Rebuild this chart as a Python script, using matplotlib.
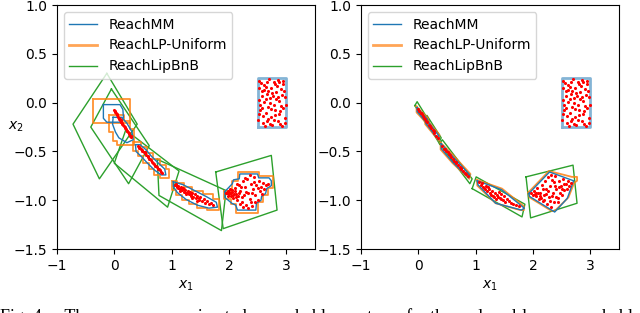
import matplotlib
matplotlib.use("Agg")
import matplotlib.pyplot as plt

# ---------------- data ----------------
init_box = [(2.5, -0.25), (3.0, -0.25), (3.0, 0.25), (2.5, 0.25)]

init_pts = [(2.53, 0.22), (2.61, 0.18), (2.70, 0.24), (2.78, 0.21), (2.86, 0.23), (2.95, 0.19),
            (2.57, 0.12), (2.66, 0.09), (2.74, 0.15), (2.83, 0.11), (2.91, 0.14), (2.98, 0.06),
            (2.52, 0.03), (2.62, 0.01), (2.71, 0.05), (2.79, -0.02), (2.88, 0.02), (2.94, -0.05),
            (2.55, -0.08), (2.64, -0.11), (2.73, -0.06), (2.81, -0.13), (2.90, -0.09), (2.97, -0.16),
            (2.51, -0.18), (2.59, -0.21), (2.68, -0.17), (2.76, -0.23), (2.85, -0.19), (2.93, -0.24),
            (2.56, 0.20), (2.65, 0.16), (2.75, 0.10), (2.84, 0.17), (2.92, 0.08), (2.54, -0.02),
            (2.69, -0.04), (2.77, 0.07), (2.87, -0.12), (2.99, -0.02), (2.60, -0.14), (2.71, -0.22),
            (2.80, -0.08), (2.89, -0.22), (2.96, 0.12), (2.58, 0.07), (2.67, 0.21), (2.82, 0.04),
            (2.63, -0.24), (2.74, -0.15), (2.53, -0.12), (2.94, 0.22), (2.86, 0.06), (2.72, 0.00),
            (2.61, 0.13), (2.57, -0.05), (2.66, -0.19), (2.78, -0.18), (2.91, -0.03), (2.68, 0.12),
            (2.81, 0.19), (2.97, -0.21), (2.52, 0.15), (2.88, 0.21), (2.64, 0.04)]

# left panel ---------------------------------------------------
left_pts = [
    [(1.95, -0.92), (1.98, -0.90), (2.00, -0.94), (2.02, -0.88), (2.04, -0.96), (2.06, -0.91),
     (2.08, -0.98), (2.10, -0.87), (2.12, -0.94), (2.14, -1.00), (2.03, -0.93), (2.07, -0.95),
     (1.99, -0.96), (2.11, -0.90), (2.16, -0.96), (2.18, -0.84), (2.20, -0.90), (2.22, -1.02),
     (2.24, -0.80), (2.26, -0.95), (2.28, -0.86), (2.30, -1.05), (2.32, -0.78), (2.34, -0.92),
     (2.36, -0.99), (2.38, -0.83), (2.40, -1.06), (2.42, -0.88), (2.44, -0.76), (2.46, -0.95),
     (2.48, -0.84), (2.50, -1.00), (2.52, -0.80), (2.54, -0.90), (2.56, -0.86), (2.58, -0.94),
     (2.60, -0.82), (2.62, -0.88), (2.65, -0.84), (2.68, -0.83), (2.25, -1.07), (2.19, -1.04),
     (2.36, -0.74), (2.28, -0.77), (2.45, -1.02), (2.33, -1.08), (2.14, -0.83), (2.40, -0.93),
     (1.97, -0.93), (2.05, -0.89), (2.09, -0.94), (2.13, -0.97), (2.01, -0.91), (2.17, -0.92),
     (2.23, -0.97), (2.29, -0.91), (2.43, -0.81), (2.51, -0.87), (2.21, -0.86), (2.38, -1.02)],
    [(1.06, -0.84), (1.08, -0.83), (1.10, -0.86), (1.12, -0.85), (1.14, -0.88), (1.16, -0.86),
     (1.18, -0.89), (1.20, -0.87), (1.22, -0.91), (1.24, -0.89), (1.26, -0.92), (1.28, -0.90),
     (1.30, -0.94), (1.32, -0.91), (1.34, -0.95), (1.36, -0.93), (1.38, -0.97), (1.40, -0.94),
     (1.42, -0.98), (1.45, -0.96), (1.48, -1.00), (1.50, -0.97), (1.53, -1.01), (1.56, -0.99),
     (1.59, -1.03), (1.62, -1.01), (1.65, -1.04), (1.68, -1.03), (1.72, -1.05), (1.15, -0.90),
     (1.25, -0.94), (1.35, -0.98), (1.44, -1.01), (1.11, -0.87), (1.21, -0.88), (1.09, -0.85),
     (1.17, -0.87), (1.27, -0.93), (1.33, -0.96), (1.47, -0.98)],
    [(0.41, -0.44), (0.44, -0.45), (0.46, -0.47), (0.49, -0.48), (0.51, -0.51), (0.54, -0.52),
     (0.56, -0.54), (0.59, -0.56), (0.61, -0.58), (0.64, -0.59), (0.66, -0.61), (0.69, -0.63),
     (0.71, -0.65), (0.74, -0.66), (0.76, -0.68), (0.79, -0.69), (0.81, -0.71), (0.84, -0.72),
     (0.48, -0.49), (0.58, -0.55), (0.68, -0.62), (0.78, -0.68), (0.43, -0.46), (0.53, -0.51),
     (0.63, -0.58), (0.73, -0.65)],
    [(0.10, -0.18), (0.12, -0.20), (0.14, -0.22), (0.16, -0.23), (0.18, -0.25), (0.20, -0.27),
     (0.22, -0.29), (0.24, -0.30), (0.26, -0.32), (0.28, -0.34), (0.30, -0.35), (0.13, -0.21),
     (0.19, -0.26), (0.25, -0.31), (0.11, -0.19), (0.17, -0.24), (0.23, -0.29), (0.29, -0.34)],
    [(-0.01, -0.08), (0.01, -0.10), (0.03, -0.11), (0.05, -0.13), (0.07, -0.15), (0.09, -0.17),
     (0.11, -0.18), (0.12, -0.20), (0.02, -0.09), (0.08, -0.16), (0.04, -0.12), (0.10, -0.17)],
]

left_mm = [
    [(1.93, -0.91), (2.06, -0.83), (2.08, -0.79), (2.18, -0.78), (2.19, -0.73), (2.50, -0.73),
     (2.52, -0.77), (2.70, -0.77), (2.74, -0.80), (2.74, -0.85), (2.66, -0.88), (2.64, -0.93),
     (2.57, -0.96), (2.56, -1.00), (2.48, -1.03), (2.47, -1.10), (2.15, -1.10), (2.12, -1.05),
     (2.05, -1.03), (1.93, -0.97)],
    [(1.03, -0.81), (1.20, -0.84), (1.40, -0.90), (1.60, -0.96), (1.78, -1.02), (1.80, -1.07),
     (1.65, -1.08), (1.45, -1.05), (1.25, -0.99), (1.10, -0.92), (1.03, -0.86)],
    [(0.37, -0.43), (0.45, -0.43), (0.55, -0.48), (0.65, -0.55), (0.77, -0.62), (0.88, -0.68),
     (0.90, -0.74), (0.82, -0.74), (0.70, -0.69), (0.58, -0.62), (0.47, -0.55), (0.38, -0.50)],
    [(-0.02, -0.15), (0.13, -0.15), (0.22, -0.21), (0.31, -0.30), (0.33, -0.38), (0.22, -0.41),
     (0.08, -0.36), (0.02, -0.30), (-0.03, -0.22)],
    [(-0.19, -0.02), (0.10, -0.02), (0.15, -0.07), (0.16, -0.15), (0.10, -0.20), (-0.13, -0.20),
     (-0.19, -0.16)],
]

left_lp = [
    [(1.906, -0.903), (2.047, -0.903), (2.047, -0.800), (2.164, -0.800), (2.164, -0.715),
     (2.532, -0.715), (2.532, -0.749), (2.766, -0.749), (2.766, -0.869), (2.678, -0.869),
     (2.678, -0.944), (2.590, -0.944), (2.590, -1.022), (2.503, -1.022), (2.503, -1.125),
     (2.123, -1.125), (2.123, -1.040), (2.035, -1.040), (2.035, -0.988), (1.906, -0.988)],
    [(1.01, -0.80), (1.10, -0.80), (1.10, -0.82), (1.22, -0.82), (1.22, -0.86), (1.35, -0.86),
     (1.35, -0.90), (1.55, -0.90), (1.55, -0.94), (1.72, -0.94), (1.72, -0.99), (1.83, -0.99),
     (1.83, -1.10), (1.62, -1.10), (1.62, -1.08), (1.45, -1.08), (1.45, -1.04), (1.30, -1.04),
     (1.30, -1.00), (1.18, -1.00), (1.18, -0.95), (1.08, -0.95), (1.08, -0.89), (1.01, -0.89)],
    [(0.33, -0.40), (0.47, -0.40), (0.47, -0.45), (0.57, -0.45), (0.57, -0.52), (0.68, -0.52),
     (0.68, -0.58), (0.80, -0.58), (0.80, -0.64), (0.90, -0.64), (0.90, -0.68), (0.95, -0.68),
     (0.95, -0.77), (0.80, -0.77), (0.80, -0.74), (0.70, -0.74), (0.70, -0.68), (0.60, -0.68),
     (0.60, -0.62), (0.50, -0.62), (0.50, -0.55), (0.42, -0.55), (0.42, -0.50), (0.33, -0.50)],
    [(-0.10, -0.13), (0.17, -0.13), (0.17, -0.19), (0.27, -0.19), (0.27, -0.27), (0.35, -0.27),
     (0.35, -0.43), (0.05, -0.43), (0.05, -0.39), (-0.03, -0.39), (-0.03, -0.30), (-0.10, -0.30)],
    [(-0.37, 0.04), (0.27, 0.04), (0.27, -0.21), (-0.37, -0.21)],
]

left_bnb = [
    [(1.77, -0.71), (2.74, -0.54), (2.84, -1.10), (1.90, -1.29)],
    [(0.75, -0.58), (1.95, -0.90), (1.87, -1.31), (0.78, -0.95)],
    [(0.20, -0.28), (1.13, -0.70), (0.93, -1.07), (0.00, -0.62)],
    [(-0.05, 0.14), (0.61, -0.44), (0.25, -0.83), (-0.41, -0.25)],
    [(-0.13, 0.30), (0.40, -0.22), (-0.26, -0.78), (-0.72, -0.22)],
]

# right panel --------------------------------------------------
right_pts = [
    [(1.97, -0.93), (2.02, -0.90), (2.05, -0.96), (2.08, -0.87), (2.10, -0.99), (2.13, -0.92),
     (2.15, -0.84), (2.17, -1.01), (2.19, -0.95), (2.21, -0.80), (2.23, -0.88), (2.25, -1.04),
     (2.27, -0.76), (2.28, -0.97), (2.30, -0.85), (2.32, -1.07), (2.34, -0.79), (2.35, -0.92),
     (2.37, -1.02), (2.39, -0.75), (2.41, -0.88), (2.43, -0.98), (2.45, -0.80), (2.47, -0.93),
     (2.49, -0.85), (2.51, -0.95), (2.53, -0.78), (2.55, -0.89), (2.57, -0.83), (2.59, -0.88),
     (2.61, -0.80), (2.63, -0.85), (2.66, -0.82), (2.12, -0.96), (2.06, -0.92), (2.20, -1.00),
     (2.26, -0.90), (2.38, -0.85), (2.44, -1.02), (2.31, -0.74), (2.50, -0.88), (2.18, -0.88),
     (2.00, -0.95), (2.09, -0.93), (2.40, -0.97), (2.03, -0.94), (2.14, -0.98), (2.22, -0.94),
     (2.29, -1.01), (2.36, -0.81), (2.46, -0.86), (2.54, -0.83), (2.33, -0.96)],
    [(1.06, -0.815), (1.10, -0.84), (1.12, -0.82), (1.15, -0.87), (1.18, -0.85), (1.20, -0.90),
     (1.23, -0.88), (1.25, -0.93), (1.28, -0.90), (1.30, -0.96), (1.33, -0.92), (1.35, -0.99),
     (1.37, -0.95), (1.40, -0.91), (1.42, -0.98), (1.45, -0.94), (1.47, -1.00), (1.50, -0.96),
     (1.52, -1.02), (1.55, -0.99), (1.58, -1.01), (1.62, -1.03), (1.66, -1.04), (1.70, -1.05),
     (1.75, -1.06), (1.13, -0.86), (1.27, -0.95), (1.39, -0.97), (1.22, -0.86), (1.32, -0.97),
     (1.44, -0.99), (1.17, -0.88)],
    [(0.42, -0.44), (0.45, -0.47), (0.48, -0.49), (0.51, -0.51), (0.54, -0.53), (0.57, -0.56),
     (0.60, -0.58), (0.63, -0.60), (0.66, -0.62), (0.69, -0.64), (0.72, -0.66), (0.75, -0.68),
     (0.78, -0.70), (0.81, -0.72), (0.84, -0.73), (0.87, -0.75), (0.47, -0.47), (0.56, -0.54),
     (0.65, -0.61), (0.74, -0.67)],
    [(0.16, -0.20), (0.19, -0.23), (0.22, -0.26), (0.25, -0.28), (0.28, -0.31), (0.31, -0.34),
     (0.34, -0.36), (0.20, -0.24), (0.27, -0.29)],
    [(0.00, -0.07), (0.02, -0.09), (0.04, -0.11), (0.06, -0.12), (0.08, -0.14), (0.10, -0.16),
     (0.12, -0.17), (0.14, -0.19), (0.05, -0.11)],
]

right_mm = [
    [(1.93, -0.93), (2.29, -0.71), (2.71, -0.80), (2.60, -0.98), (2.38, -1.12), (1.94, -0.96)],
    [(1.03, -0.80), (1.45, -0.89), (1.85, -1.08), (1.80, -1.10), (1.35, -1.03), (1.04, -0.84)],
    [(0.40, -0.42), (0.60, -0.55), (0.90, -0.74), (0.88, -0.77), (0.60, -0.61), (0.40, -0.47)],
    [(0.14, -0.17), (0.36, -0.34), (0.35, -0.38), (0.13, -0.21)],
    [(-0.02, -0.05), (0.16, -0.17), (0.15, -0.21), (-0.02, -0.09)],
]

right_lp = [
    [(1.92, -0.92), (2.28, -0.70), (2.68, -0.76), (2.77, -0.76), (2.77, -0.80), (2.72, -0.82),
     (2.62, -0.97), (2.38, -1.11), (2.33, -1.11), (1.94, -0.97)],
    [(1.02, -0.79), (1.46, -0.88), (1.84, -1.06), (1.84, -1.10), (1.78, -1.10), (1.35, -1.03),
     (1.03, -0.85)],
    [(0.39, -0.41), (0.61, -0.54), (0.91, -0.73), (0.89, -0.78), (0.60, -0.62), (0.39, -0.48)],
    [(0.13, -0.16), (0.37, -0.33), (0.36, -0.39), (0.12, -0.22)],
    [(-0.03, -0.04), (0.17, -0.16), (0.16, -0.22), (-0.03, -0.10)],
]

right_bnb = [
    [(1.88, -0.76), (2.70, -0.64), (2.77, -1.03), (1.96, -1.18)],
    [(0.94, -0.88), (1.01, -0.76), (1.86, -1.04), (1.81, -1.17)],
    [(0.37, -0.42), (0.42, -0.38), (0.94, -0.78), (0.90, -0.83)],
    [(0.11, -0.17), (0.15, -0.13), (0.40, -0.36), (0.36, -0.41)],
    [(-0.06, -0.03), (-0.02, 0.01), (0.19, -0.19), (0.15, -0.23)],
]

labels = ['ReachMM', 'ReachLP-Uniform', 'ReachLipBnB']
colors = ['#1f77b4', '#ff7f0e', '#2ca02c']

caption = ("Fig. 4:    The    over-approximated    reachable    sets    of    the    "
           "closed-loop    reachabl")


def closed(poly):
    xs = [p[0] for p in poly] + [poly[0][0]]
    ys = [p[1] for p in poly] + [poly[0][1]]
    return xs, ys


def draw_panel(ax, pts, mm, lp, bnb):
    for poly in bnb:
        ax.plot(*closed(poly), color=colors[2], lw=1)
    for poly in lp:
        ax.plot(*closed(poly), color=colors[1], lw=1.3, alpha=0.85)
    for poly in mm:
        ax.plot(*closed(poly), color=colors[0], lw=1)
    ax.plot(*closed(init_box), color=colors[0], lw=2, alpha=0.55)
    for cloud in [init_pts] + pts:
        ax.scatter([p[0] for p in cloud], [p[1] for p in cloud], s=5, color='red',
                   zorder=3, linewidths=0)
    # legend proxies
    ax.plot([], [], color=colors[0], lw=1, label=labels[0])
    ax.plot([], [], color=colors[1], lw=2, alpha=0.7, label=labels[1])
    ax.plot([], [], color=colors[2], lw=1, label=labels[2])
    ax.legend(loc='upper left')
    ax.set_xlim(-1, 3.5)
    ax.set_ylim(-1.5, 1.0)
    ax.set_xticks([-1, 0, 1, 2, 3])
    ax.set_yticks([-1.5, -1.0, -0.5, 0.0, 0.5, 1.0])
    ax.set_xlabel('$x_1$')


fig = plt.figure(figsize=(6.4, 3.13), dpi=100)
ax1 = fig.add_axes([0.089, 0.204, 0.403, 0.78])
ax2 = fig.add_axes([0.564, 0.204, 0.403, 0.78])

draw_panel(ax1, left_pts, left_mm, left_lp, left_bnb)
draw_panel(ax2, right_pts, right_mm, right_lp, right_bnb)
ax1.set_ylabel('$x_2$', rotation=0, ha='center', va='center')
ax1.yaxis.set_label_coords(-0.16, 0.5)

# figure caption, cut off at the bottom edge as in the source page
fig.text(0.0, -0.03, caption, family='Liberation Serif', fontsize=13, ha='left',
         va='baseline')

fig.savefig('out.png', dpi=100)
